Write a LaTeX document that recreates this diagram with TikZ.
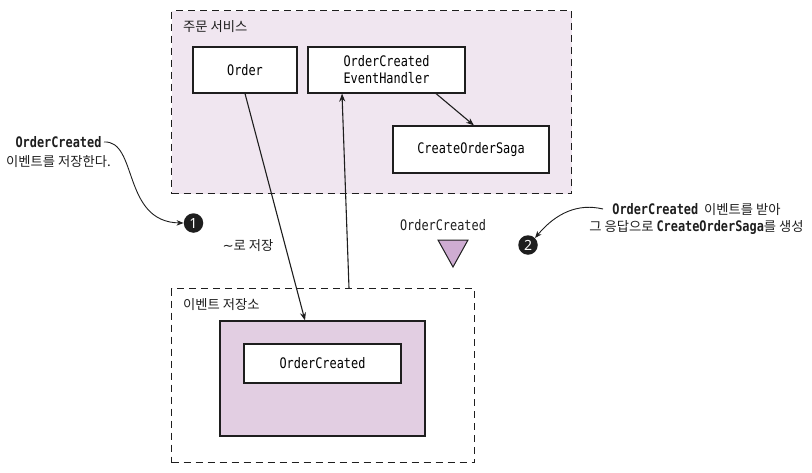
\documentclass[tikz,border=0pt]{standalone}
\usepackage{fontspec}
\setmainfont{Noto Sans CJK KR}
\newfontfamily\krf{Noto Sans CJK KR}
\newfontfamily\monof[FakeStretch=0.82]{DejaVu Sans Mono}
\newfontfamily\numf{Noto Sans}
\newfontfamily\symf{DejaVu Sans}
\usetikzlibrary{arrows.meta,calc}
\definecolor{svcfill}{RGB}{240,230,240}
\definecolor{storefill}{RGB}{226,206,226}
\definecolor{trifill}{RGB}{206,172,210}
\definecolor{ink}{RGB}{30,30,30}
\tikzset{
  container/.style={draw=ink, line width=1.2pt, dash pattern=on 7pt off 5pt, inner sep=0pt, anchor=north west},
  cls/.style={draw=ink, line width=1.1pt, fill=white, inner sep=0pt, font=\monof\fontsize{14.5}{17}\selectfont, align=center},
  krtext/.style={font=\krf\fontsize{13.3}{15}\selectfont, text=ink, inner sep=0pt},
  monotext/.style={font=\monof\fontsize{14.5}{16}\selectfont, text=ink, inner sep=0pt},
  numdot/.style={circle, fill=ink, text=white, inner sep=0pt, minimum size=19.5pt, font=\numf\bfseries\fontsize{14}{14}\selectfont},
  conn/.style={draw=ink, line width=1.1pt, -{Stealth[length=8pt,width=6pt]}},
  note/.style={draw=ink, line width=0.9pt, -{Stealth[length=7pt,width=5.5pt]}}
}
\begin{document}
\begin{tikzpicture}[x=1pt,y=-1pt]
\useasboundingbox (0,0) rectangle (812,472);
% containers
\node[container, fill=svcfill, minimum width=400pt, minimum height=183pt] (svc) at (171,10) {};
\node[container, minimum width=303pt, minimum height=174pt] (es) at (171,288) {};
\node[krtext, anchor=west] (svclabel) at (183,27) {주문 서비스};
\node[krtext, anchor=west] (eslabel) at (183,305) {이벤트 저장소};
% service classes
\node[cls, minimum width=104pt, minimum height=46pt] (order) at (245,70) {Order};
\node[cls, minimum width=157pt, minimum height=46pt] (handler) at (386.5,70) {OrderCreated\\EventHandler};
\node[cls, minimum width=156pt, minimum height=47pt] (saga) at (471,149.5) {CreateOrderSaga};
% event store
\node[draw=ink, line width=1.1pt, fill=storefill, minimum width=205pt, minimum height=115pt, inner sep=0pt] (store) at (322.5,378.5) {};
\node[cls, minimum width=157pt, minimum height=39pt] (evt) at (322.5,363.5) {OrderCreated};
% connectors
\draw[conn] (order.south) -- ([xshift=-17.5pt]store.north);
\draw[conn] ([xshift=178pt]es.north west) -- ([xshift=-44.5pt]handler.south);
\draw[conn] ([xshift=49.5pt]handler.south) -- ([xshift=3pt]saga.north);
% event marker
\node[monotext] (evlabel) at (443,225) {OrderCreated};
\draw[draw=ink, line width=1pt, fill=trifill, line join=miter] (438,240) -- (468,240) -- (453,267) -- cycle;
% step markers
\node[numdot] (n1) at (193.5,223) {1};
\node[numdot] (n2) at (528,245) {2};
\node[krtext] (save) at (248,246) {{\symf ∼}로 저장};
% annotations
\node[krtext, align=center, font=\krf\fontsize{13.3}{19}\selectfont] (note1) at (58.5,152.5) {{\monof\bfseries\fontsize{14.5}{19}\selectfont OrderCreated}\\이벤트를 저장한다.};
\node[krtext, align=center, font=\krf\fontsize{13.3}{17}\selectfont] (note2) at (696.5,218.5) {{\monof\bfseries\fontsize{14.5}{17}\selectfont OrderCreated}\hspace{3pt} 이벤트를 받아\\그 응답으로 {\monof\bfseries\fontsize{14.5}{17}\selectfont CreateOrderSaga}를 생성};
\coordinate (c1) at (104,142);
\coordinate (c2) at (603,209);
\draw[note] (c1) .. controls (138,140) and (122,222) .. (n1.west);
\draw[note] (c2) .. controls (578,203) and (556,213) .. (n2.north east);
\end{tikzpicture}
\end{document}
